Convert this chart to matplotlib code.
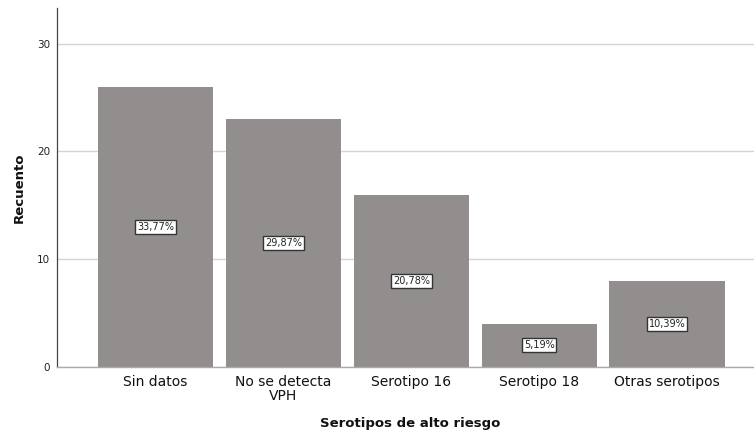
import matplotlib
matplotlib.use("Agg")
import matplotlib.pyplot as plt

categories = ["Sin datos", "No se detecta\nVPH", "Serotipo 16", "Serotipo 18", "Otras serotipos"]
counts = [26, 23, 16, 4, 8]
percent_labels = ["33,77%", "29,87%", "20,78%", "5,19%", "10,39%"]
y_ticks = [0, 10, 20, 30]

plt.rcParams["font.family"] = ["DejaVu Sans"]

fig = plt.figure(figsize=(7.54, 4.32), dpi=100)
ax = fig.add_axes([57 / 754, 65 / 432, 1 - 57 / 754, 359 / 432])

x = list(range(len(categories)))
ax.bar(x, counts, width=0.9, color="#928e8d", zorder=2)

for xi, c, lab in zip(x, counts, percent_labels):
    ax.text(xi, c / 2, lab, ha="center", va="center", fontsize=7, color="#222222",
            zorder=3,
            bbox=dict(boxstyle="square,pad=0.2", facecolor="white", edgecolor="#333333",
                      linewidth=1.0))

ax.set_xlim(-0.77, 4.68)
ax.set_ylim(0, 33.3)
ax.set_yticks(y_ticks)
ax.set_xticks(x)
ax.set_xticklabels(categories, fontsize=10, color="#111111", linespacing=0.95)
ax.tick_params(axis="y", labelsize=7.5, length=0, pad=5, colors="#222222")
ax.tick_params(axis="x", length=0, pad=6)
ax.yaxis.grid(True, color="#d4d4d4", linewidth=1.0, zorder=0)
ax.set_axisbelow(True)

for side in ("top", "right"):
    ax.spines[side].set_visible(False)
ax.spines["left"].set_color("#444444")
ax.spines["left"].set_linewidth(0.9)
ax.spines["bottom"].set_color("#aaaaaa")
ax.spines["bottom"].set_linewidth(1.0)

fig.text(410 / 754, 1 - 423 / 432, "Serotipos de alto riesgo", fontsize=9.5,
         fontweight="bold", ha="center", va="center", color="#111111")
fig.text(19 / 754, 1 - 188 / 432, "Recuento", fontsize=9.5, fontweight="bold",
         rotation=90, ha="center", va="center", color="#111111")

fig.savefig("out.png", dpi=100)
